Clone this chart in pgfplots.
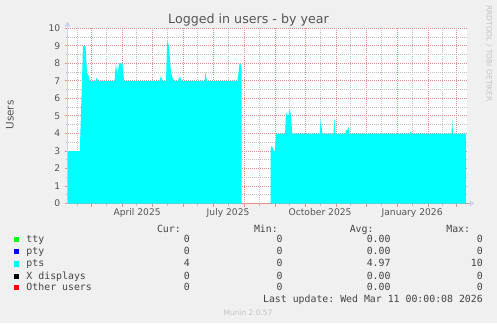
\documentclass[border=0pt]{standalone}
\usepackage{fontspec}
\setmainfont{DejaVu Sans}
\setmonofont{DejaVu Sans Mono}
\usepackage{pgfplots}
\pgfplotsset{compat=1.18}
\usetikzlibrary{arrows.meta}
\definecolor{bg}{HTML}{F0F0F0}
\definecolor{ptscol}{HTML}{00FFFF}
\definecolor{ttycol}{HTML}{00FF00}
\definecolor{ptycol}{HTML}{0000FF}
\definecolor{xcol}{HTML}{000000}
\definecolor{othcol}{HTML}{FF0000}
\definecolor{mgrid}{RGB}{232,140,140}
\definecolor{ngrid}{RGB}{192,192,192}
\definecolor{axcol}{RGB}{205,210,245}
\definecolor{txt}{HTML}{555555}
\definecolor{legtxt}{HTML}{444444}
\definecolor{faint}{HTML}{C4C4C4}

\pgfplotsset{
  layers/gridbelow/.define layer set={
    axis background,axis grid,main,axis ticks,axis lines,axis tick labels,axis descriptions,axis foreground
  }{},
}

\pgfplotstableread{
x y
35.4 3
47.7 3
49.9 7
50.9 9
53.4 9
54.9 7.5
56.4 7.3
57.9 7
63.4 7
64.4 7.2
65.9 7
82.4 7
83.7 8
85.4 7.4
86.9 8
90.4 8
92.1 7
127.4 7
128.9 7.3
130.4 7
133.9 7
135.1 9.3
136.9 9
138.9 7.5
140.4 7.2
141.9 7
145.9 7
146.9 7.2
148.4 7.2
149.4 7
172.4 7
173.4 7.5
174.9 7
205.4 7
207.4 8
208.4 8
209.4 7.8
}\ptsA

\pgfplotstableread{
x y
238.4 3.0
239.4 3.3
240.4 3.2
241.7 3.0
242.9 3.0
243.9 4
253.0 4
253.9 5.2
256.1 5.0
257.7 5.4
258.9 5.0
260.1 4
287.7 4
288.7 4.9
290.1 4
301.4 4
302.2 4.9
303.4 4
313.4 4
313.9 4.2
315.4 4.2
316.4 4.4
317.4 4
377.4 4
378.4 4.1
379.4 4
419.4 4
420.1 4.8
420.9 4
434.1 4
}\ptsB

\begin{document}
\begin{tikzpicture}[x=1bp,y=1bp]
\fill[bg] (0,0) rectangle (497,323);
\begin{axis}[
  set layers=gridbelow,
  at={(67.5bp,119.5bp)}, anchor=south west,
  scale only axis, width=399bp, height=175bp,
  xmin=35.4, xmax=434.4, ymin=0, ymax=10,
  axis background/.style={fill=white},
  axis x line*=bottom, axis y line*=left,
  x axis line style={draw=mgrid, line width=1bp, -{Triangle[length=5bp,width=6bp,color=axcol,fill=axcol]}, shorten >=-8bp},
  y axis line style={draw=axcol, line width=1bp, -{Triangle[length=5bp,width=6bp,color=axcol,fill=axcol]}, shorten >=-7bp},
  xtick={59,90,120,151,181,212,243,273,304,334,365,396,424},
  xticklabels={},
  minor xtick={45,74,104,135,165,196,227,257,288,318,349,380,410},
  extra x ticks={105,196,288,380},
  extra x tick labels={April 2025,July 2025,October 2025,January 2026},
  extra x tick style={grid=none, major tick length=0bp},
  ytick={0,1,...,10},
  minor y tick num=1,
  grid=both,
  major grid style={draw=mgrid, line width=1bp, dash pattern=on 1bp off 1bp},
  minor grid style={draw=ngrid, line width=1bp, dash pattern=on 1bp off 1bp},
  tick align=outside,
  major tick length=3bp, minor tick length=2bp,
  major tick style={draw=mgrid, line width=1bp},
  minor tick style={draw=ngrid, line width=1bp},
  /pgf/number format/assume math mode=true,
  tick label style={font=\fontsize{9.2}{10}\selectfont, text=txt},
  yticklabel style={anchor=east, inner sep=0pt, xshift=-4bp},
  xticklabel style={anchor=north, inner sep=0pt, yshift=-5bp},
  clip=true,
]
\addplot[draw=none, fill=ptscol] table[x=x,y=y]{\ptsA} |- (axis cs:35.4,0) -- cycle;
\addplot[draw=none, fill=ptscol] table[x=x,y=y]{\ptsB} |- (axis cs:238.4,0) -- cycle;
\end{axis}
% title and labels
\node[anchor=base, inner sep=0pt, text=txt, font=\fontsize{12.7}{14}\selectfont] at (248.5,299.5) {Logged in users - by year};
\node[anchor=base, inner sep=0pt, rotate=90, text=txt, font=\fontsize{10.5}{12}\selectfont] at (13.5,208) {Users};
\node[anchor=center, inner sep=0pt, rotate=-90, text=faint, font=\fontsize{7.5}{9}\selectfont] at (489,269.5) {RRDTOOL / TOBI OETIKER};
% legend table
\begin{scope}[every node/.style={inner sep=0pt, text=legtxt, font=\ttfamily\fontsize{9.9}{11}\selectfont}]
\node[anchor=base east] at (181,91) {Cur:};
\node[anchor=base east] at (278,91) {Min:};
\node[anchor=base east] at (373.7,91) {Avg:};
\node[anchor=base east] at (470.3,91) {Max:};
% rows
\node[anchor=base west] at (14,80.7) {\textcolor{ttycol}{\rule{5.3bp}{5.3bp}}};
\node[anchor=base west] at (26.3,80.7) {tty};
\node[anchor=base east] at (190,80.7) {0};
\node[anchor=base east] at (282.7,80.7) {0};
\node[anchor=base east] at (390.7,80.7) {0.00};
\node[anchor=base east] at (483,80.7) {0};
\node[anchor=base west] at (14,69) {\textcolor{ptycol}{\rule{5.3bp}{5.3bp}}};
\node[anchor=base west] at (26.3,69) {pty};
\node[anchor=base east] at (190,69) {0};
\node[anchor=base east] at (282.7,69) {0};
\node[anchor=base east] at (390.7,69) {0.00};
\node[anchor=base east] at (483,69) {0};
\node[anchor=base west] at (14,56.5) {\textcolor{ptscol}{\rule{5.3bp}{5.3bp}}};
\node[anchor=base west] at (26.3,56.5) {pts};
\node[anchor=base east] at (190,56.5) {4};
\node[anchor=base east] at (282.7,56.5) {0};
\node[anchor=base east] at (390.7,56.5) {4.97};
\node[anchor=base east] at (483,56.5) {10};
\node[anchor=base west] at (14,44) {\textcolor{xcol}{\rule{5.3bp}{5.3bp}}};
\node[anchor=base west] at (26.3,44) {X displays};
\node[anchor=base east] at (190,44) {0};
\node[anchor=base east] at (282.7,44) {0};
\node[anchor=base east] at (390.7,44) {0.00};
\node[anchor=base east] at (483,44) {0};
\node[anchor=base west] at (14,32.7) {\textcolor{othcol}{\rule{5.3bp}{5.3bp}}};
\node[anchor=base west] at (26.3,32.7) {Other users};
\node[anchor=base east] at (190,32.7) {0};
\node[anchor=base east] at (282.7,32.7) {0};
\node[anchor=base east] at (390.7,32.7) {0.00};
\node[anchor=base east] at (483,32.7) {0};
\node[anchor=base east] at (483,20.7) {Last update: Wed Mar 11 00:00:08 2026};
\end{scope}
\node[anchor=base, inner sep=0pt, text=faint, font=\fontsize{7.5}{9}\selectfont] at (248,8) {Munin 2.0.57};
\pgfresetboundingbox
\path[use as bounding box] (0,0) rectangle (497,323);
\end{tikzpicture}
\end{document}
